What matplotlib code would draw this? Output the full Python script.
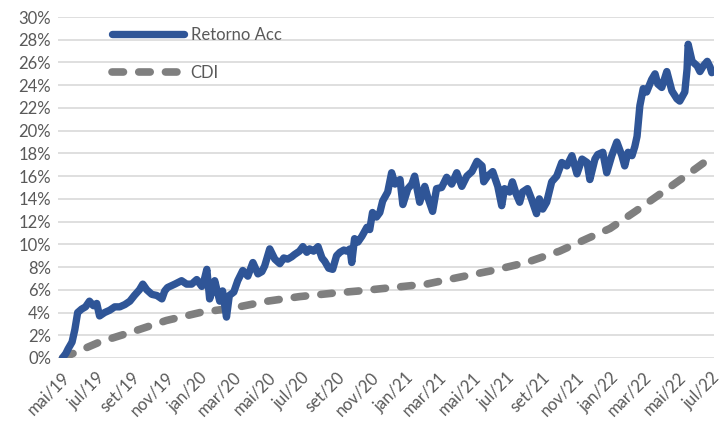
import matplotlib
matplotlib.use("Agg")
import numpy as np
import pandas as pd
import matplotlib.pyplot as plt
from matplotlib.ticker import FuncFormatter

# Retorno acumulado (%)
ret_dates = [
    "2019-05-02", "2019-05-08", "2019-05-12", "2019-05-19", "2019-05-24", "2019-05-29",
    "2019-06-05", "2019-06-12", "2019-06-19", "2019-06-26", "2019-07-02", "2019-07-07",
    "2019-07-16", "2019-07-25", "2019-08-03", "2019-08-12", "2019-08-21", "2019-08-30",
    "2019-09-07", "2019-09-16", "2019-09-22", "2019-09-29", "2019-10-08", "2019-10-17",
    "2019-10-26", "2019-10-31", "2019-11-05", "2019-11-18", "2019-11-30", "2019-12-09",
    "2019-12-18", "2019-12-27", "2020-01-05", "2020-01-10", "2020-01-14", "2020-01-19",
    "2020-01-24", "2020-01-28", "2020-02-06", "2020-02-11", "2020-02-18", "2020-02-23",
    "2020-03-02", "2020-03-09", "2020-03-18", "2020-03-27", "2020-04-05", "2020-04-14",
    "2020-04-21", "2020-04-26", "2020-05-05", "2020-05-14", "2020-05-23", "2020-05-30",
    "2020-06-06", "2020-06-13", "2020-06-18", "2020-06-27", "2020-07-03", "2020-07-10",
    "2020-07-15", "2020-07-22", "2020-07-30", "2020-08-06", "2020-08-11", "2020-08-18",
    "2020-08-25", "2020-09-01", "2020-09-07", "2020-09-14", "2020-09-19", "2020-09-25",
    "2020-09-28", "2020-10-03", "2020-10-09", "2020-10-16", "2020-10-25", "2020-10-30",
    "2020-11-04", "2020-11-11", "2020-11-17", "2020-11-22", "2020-12-01", "2020-12-08",
    "2020-12-14", "2020-12-23", "2020-12-28", "2021-01-06", "2021-01-13", "2021-01-18",
    "2021-01-27", "2021-02-05", "2021-02-10", "2021-02-19", "2021-02-26", "2021-03-07",
    "2021-03-16", "2021-03-25", "2021-04-03", "2021-04-12", "2021-04-21", "2021-04-30",
    "2021-05-09", "2021-05-18", "2021-05-21", "2021-05-28", "2021-06-06", "2021-06-15",
    "2021-06-22", "2021-06-27", "2021-07-06", "2021-07-11", "2021-07-18", "2021-07-24",
    "2021-07-29", "2021-08-07", "2021-08-14", "2021-08-23", "2021-08-28", "2021-09-03",
    "2021-09-10", "2021-09-19", "2021-09-28", "2021-10-07", "2021-10-16", "2021-10-25",
    "2021-11-03", "2021-11-12", "2021-11-21", "2021-11-26", "2021-12-05", "2021-12-10",
    "2021-12-19", "2021-12-26", "2022-01-04", "2022-01-13", "2022-01-22", "2022-01-27",
    "2022-02-02", "2022-02-09", "2022-02-14", "2022-02-18", "2022-02-23", "2022-03-01",
    "2022-03-07", "2022-03-16", "2022-03-22", "2022-03-27", "2022-04-03", "2022-04-12",
    "2022-04-21", "2022-04-30", "2022-05-05", "2022-05-14", "2022-05-18", "2022-05-20",
    "2022-05-27", "2022-06-05", "2022-06-10", "2022-06-16", "2022-06-23", "2022-06-28",
    "2022-07-01",
]
ret_values = [
    0.0, 0.4, 0.8, 1.4, 2.5, 4.0,
    4.3, 4.5, 5.0, 4.6, 4.8, 3.7,
    4.0, 4.2, 4.5, 4.5, 4.7, 5.0,
    5.5, 6.0, 6.5, 6.0, 5.6, 5.5,
    5.2, 5.9, 6.2, 6.5, 6.8, 6.5,
    6.5, 6.9, 6.3, 7.0, 7.8, 5.2,
    6.0, 6.8, 5.0, 5.9, 3.6, 5.5,
    5.8, 6.8, 7.7, 7.2, 8.4, 7.4,
    7.6, 8.1, 9.6, 8.7, 8.3, 8.8,
    8.7, 8.9, 9.1, 9.4, 9.8, 9.3,
    9.6, 9.4, 9.8, 8.8, 8.5, 7.9,
    7.8, 9.0, 9.3, 9.5, 9.4, 9.6,
    8.4, 10.5, 10.2, 10.7, 11.5, 11.3,
    12.8, 12.4, 12.8, 13.8, 14.6, 16.3,
    15.3, 15.7, 13.5, 14.9, 15.3, 16.0,
    13.7, 15.1, 14.2, 12.9, 14.9, 15.0,
    15.9, 15.3, 16.3, 15.1, 16.0, 16.4,
    17.3, 16.9, 15.5, 16.0, 16.4, 15.1,
    13.4, 14.9, 14.6, 15.5, 14.4, 13.7,
    14.6, 14.9, 14.0, 12.7, 14.0, 13.1,
    13.7, 15.5, 16.0, 17.2, 16.9, 17.8,
    16.2, 17.5, 17.2, 15.7, 17.5, 17.9,
    18.1, 16.3, 17.8, 19.0, 17.8, 16.9,
    18.1, 17.8, 18.6, 19.5, 22.2, 23.7,
    23.4, 24.5, 25.0, 24.1, 23.8, 25.2,
    23.5, 22.8, 22.6, 23.4, 25.4, 27.6,
    26.1, 25.7, 25.2, 25.7, 26.1, 25.6,
    25.1,
]

# CDI acumulado (%)
cdi_dates = [
    "2019-05-02", "2019-07-07", "2019-09-03", "2019-11-03", "2020-01-02", "2020-03-01",
    "2020-05-01", "2020-06-27", "2020-08-25", "2020-10-11", "2020-12-10", "2021-02-08",
    "2021-04-07", "2021-06-06", "2021-08-05", "2021-10-03", "2021-11-21", "2022-01-01",
    "2022-02-15", "2022-04-05", "2022-05-15", "2022-06-23", "2022-07-01",
]
cdi_values = [
    0.0, 1.4, 2.3, 3.3, 4.0, 4.4,
    5.0, 5.4, 5.7, 5.9, 6.2, 6.5,
    7.1, 7.7, 8.4, 9.4, 10.5, 11.4,
    12.9, 14.6, 16.0, 17.4, 17.8,
]

tick_labels = ["mai/19", "jul/19", "set/19", "nov/19", "jan/20", "mar/20", "mai/20",
               "jul/20", "set/20", "nov/20", "jan/21", "mar/21", "mai/21", "jul/21",
               "set/21", "nov/21", "jan/22", "mar/22", "mai/22", "jul/22"]

plt.rcParams['font.family'] = ['Lato', 'DejaVu Sans']

fig = plt.figure(figsize=(7.22, 4.22), dpi=100)
ax = fig.add_axes([58 / 722, 64 / 422, 656 / 722, 341 / 422])

blue = "#2F5597"
grey = "#7F7F7F"

ax.plot(pd.to_datetime(ret_dates), np.array(ret_values) / 100, color=blue, lw=5.3,
        solid_capstyle="round", solid_joinstyle="round", label="Retorno Acc", zorder=3)
ax.plot(pd.to_datetime(cdi_dates), np.array(cdi_values) / 100, color=grey, lw=5.5,
        dashes=(1.5, 2.0), dash_capstyle="round", label="CDI", zorder=2)

ax.set_ylim(0, 0.30)
ax.set_yticks(np.arange(0, 0.301, 0.02))
ax.yaxis.set_major_formatter(FuncFormatter(lambda v, p: "%d%%" % round(v * 100)))

ticks = pd.date_range("2019-05-01", "2022-07-01", freq="2MS")
ax.set_xticks(ticks)
ax.set_xticklabels(tick_labels, rotation=45, ha="right", rotation_mode="anchor")
ax.set_xlim(pd.Timestamp("2019-04-24"), pd.Timestamp("2022-07-05"))

ax.grid(axis="y", color="#D9D9D9", lw=1.2)
ax.set_axisbelow(True)
for s in ax.spines.values():
    s.set_visible(False)
ax.tick_params(length=0, labelsize=12, labelcolor="#595959", pad=5)
ax.tick_params(axis="x", pad=8)

ax.legend(loc="upper left", bbox_to_anchor=(0.07, 0.995), frameon=False, fontsize=12,
          handlelength=4.3, handletextpad=0.4, labelspacing=1.3, borderpad=0,
          labelcolor="#595959")

fig.savefig("out.png", dpi=100)
